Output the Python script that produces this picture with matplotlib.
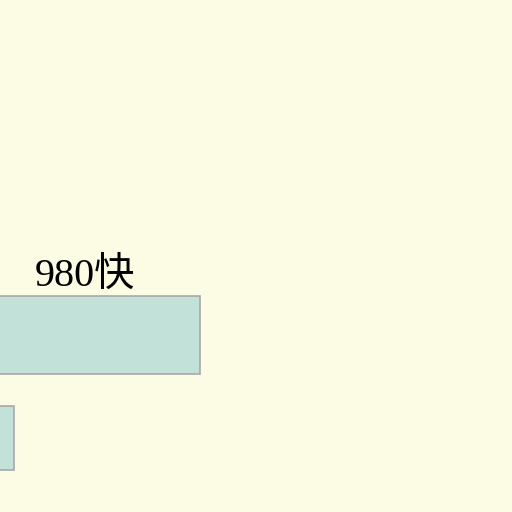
import matplotlib.pyplot as plt
import numpy as np

# data
values = [980, 187]
positions = [0, 1]
heights = [0.757, 0.62]
labels = ["980快", ""]

plt.rcParams['font.family'] = ['Liberation Serif', 'Noto Sans CJK SC', 'DejaVu Sans']

fig = plt.figure(figsize=(5.12, 5.12), dpi=100)
fig.patch.set_facecolor('#fcfbe4')
ax = fig.add_axes([0, 0, 1, 1])
ax.set_facecolor('#fcfbe4')

ax.barh(positions, values, height=heights, color='#c2e1d9', edgecolor='#a9a9a9', linewidth=1.2)

for p, v, h, lab in zip(positions, values, heights, labels):
    if lab:
        ax.text(v / 2, p - h / 2 - 0.097, lab, ha='center', va='baseline', fontsize=29, color='black')

# the left part of the chart is cut off, zero sits just outside the picture
ax.set_xlim(128, 2309)
ax.set_ylim(1.718, -3.25)
ax.axis('off')

plt.savefig('out.png', dpi=100, facecolor=fig.get_facecolor())
